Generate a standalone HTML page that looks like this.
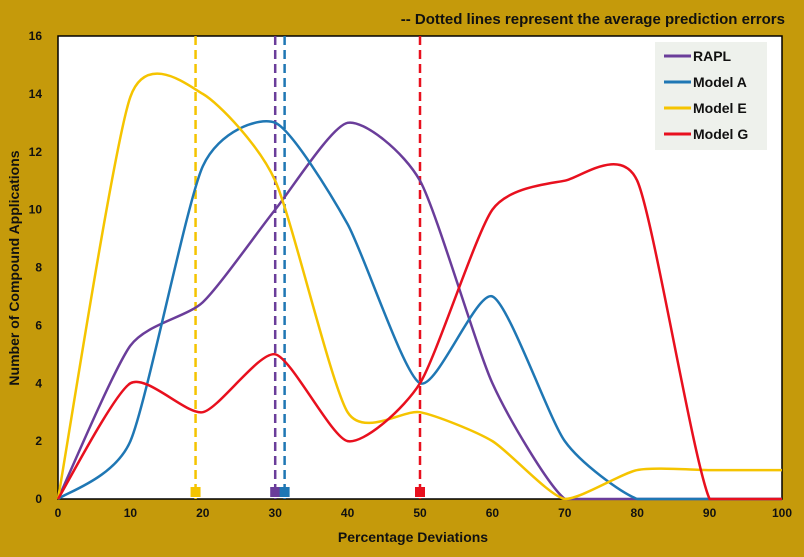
<!DOCTYPE html>
<html><head><meta charset="utf-8"><style>
body{margin:0;background:#c59a0b;font-family:"Liberation Sans",sans-serif}
svg{display:block}
</style></head><body>
<svg id="chart" width="804" height="557">
<rect x="0" y="0" width="804" height="557" fill="#c59a0b"/>
<text x="785" y="24" text-anchor="end" font-size="15" font-weight="bold" fill="#111">-- Dotted lines represent the average prediction errors</text>
<rect x="58" y="36" width="724" height="463" fill="#fff" stroke="#000" stroke-width="1.5"/>
<g id="axes"></g>
<g id="series"></g>
<g id="legend">
<rect x="655" y="42" width="112" height="108" fill="#eef1ec"/>
</g>
<text x="413" y="542" text-anchor="middle" font-size="14" font-weight="bold" fill="#111">Percentage Deviations</text>
<text transform="translate(19,268) rotate(-90)" text-anchor="middle" font-size="14" font-weight="bold" fill="#111">Number of Compound Applications</text>
</svg>
<script>
const xCats=[0,10,20,30,40,50,60,70,80,90,100];
const rapl=[0,5.3,6.8,10,13,11,4,0,0,0,0];
const modelA=[0,2,11.5,13,9.5,4,7,2,0,0,0];
const modelE=[0,13.9,14,11,3,3,2,0,1,1,1];
const modelG=[0,4,3,5,2,4,10,11,11,0,0];
const avgErrors=[30,31.3,19,50];
const seriesNames=["RAPL","Model A","Model E","Model G"];
const colors=["#6a3d9a","#1f77b4","#f5c400","#e8101e"];
const xTicks=[0,10,20,30,40,50,60,70,80,90,100];
const yTicks=[0,2,4,6,8,10,12,14,16];
const NS="http://www.w3.org/2000/svg";
const X=v=>58+v/100*724, Y=v=>499-v/16*463;
function mk(tag,attrs,parent){const e=document.createElementNS(NS,tag);for(const k in attrs)e.setAttribute(k,attrs[k]);parent.appendChild(e);return e;}
const ax=document.getElementById('axes');
xTicks.forEach(t=>{const e=mk('text',{x:X(t),y:517,'text-anchor':'middle','font-size':12,'font-weight':'bold',fill:'#111'},ax);e.textContent=t;

});
yTicks.forEach(t=>{const e=mk('text',{x:42,y:Y(t)+4,'text-anchor':'end','font-size':12,'font-weight':'bold',fill:'#111'},ax);e.textContent=t;

});
const sg=document.getElementById('series');
const all=[rapl,modelA,modelE,modelG];
const base=Y(0);
function smooth(vals){const p=vals.map((v,i)=>[X(xCats[i]),Y(v)]);let d=`M${p[0][0]},${p[0][1]}`;const k=1/9;
const cl=y=>Math.min(y,base);
for(let i=0;i<p.length-1;i++){const p0=p[i-1]||p[i],p1=p[i],p2=p[i+1],p3=p[i+2]||p2;
d+=` C${p1[0]+(p2[0]-p0[0])*k},${cl(p1[1]+(p2[1]-p0[1])*k)} ${p2[0]-(p3[0]-p1[0])*k},${cl(p2[1]-(p3[1]-p1[1])*k)} ${p2[0]},${p2[1]}`;}return d;}
all.forEach((s,i)=>{const l=mk('line',{x1:X(avgErrors[i]),x2:X(avgErrors[i]),y1:36,y2:499,stroke:colors[i],'stroke-width':2.5,'stroke-dasharray':'9,5'},sg);


const m=mk('rect',{x:X(avgErrors[i])-5,y:487,width:10,height:10,fill:colors[i]},sg);

});
all.forEach((s,i)=>{const p=mk('path',{d:smooth(s),fill:'none',stroke:colors[i],'stroke-width':2.5},sg);

});
const lg=document.getElementById('legend');
seriesNames.forEach((n,i)=>{const y=56+i*26;const l=mk('line',{x1:664,x2:691,y1:y,y2:y,stroke:colors[i],'stroke-width':3},lg);


const t=mk('text',{x:693,y:y+5,'font-size':14,'font-weight':'bold',fill:'#111'},lg);t.textContent=n;

});
</script>
</body></html>
